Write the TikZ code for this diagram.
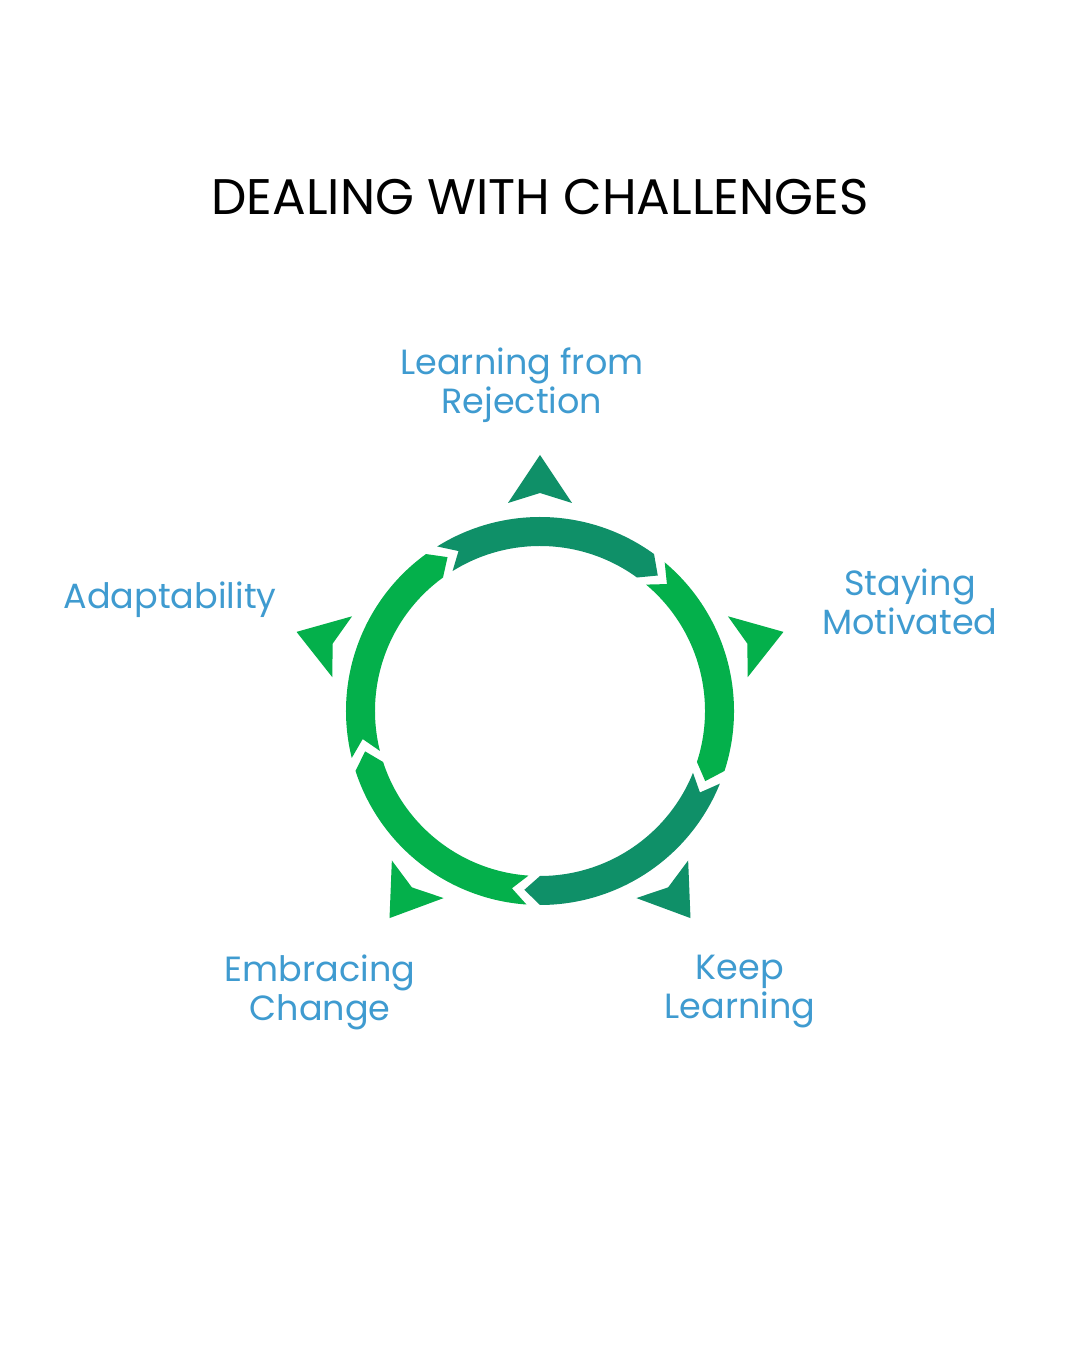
\documentclass[tikz,border=0pt]{standalone}
\usepackage{fontspec}
\setmainfont{Poppins}
\definecolor{dk}{HTML}{0F9068}
\definecolor{gr}{HTML}{04B04B}
\definecolor{lbl}{HTML}{3F9BD0}
\tikzset{lab/.style={text=lbl,align=center,font=\fontsize{35}{39}\selectfont}}
\newcommand{\seg}[3]{%
 \fill[#3] ({#1-2}:194) arc[start angle={#1-2},end angle={#2+2},radius=194] -- ({#2-3}:179.5) -- ({#2+2}:165) arc[start angle={#2+2},end angle={#1-2},radius=165] -- ({#1-7}:179.5) -- cycle;}
\newcommand{\tri}[2]{%
 \fill[#2,rotate=#1-90] (0,256) -- (-32,208) -- (0,218) -- (32,208) -- cycle;}
\begin{document}
\begin{tikzpicture}[x=1pt,y=1pt]
\useasboundingbox (0,0) rectangle (1080,1350);
\fill[white] (0,0) rectangle (1080,1350);
\node (title) at (540,1153) {\fontsize{50}{56}\selectfont DEALING WITH CHALLENGES};
\begin{scope}[shift={(540,639)}]
\seg{124}{52}{dk}
\seg{52}{-20}{gr}
\seg{-20}{-92}{dk}
\seg{-92}{-164}{gr}
\seg{196}{124}{gr}
\tri{90}{dk}
\tri{18}{gr}
\tri{-54}{dk}
\tri{-126}{gr}
\tri{162}{gr}
\end{scope}
\node[lab] (a) at (522,965) {Learning from\\Rejection};
\node[lab] (b) at (910,748) {Staying\\Motivated};
\node[lab] (c) at (170,750) {Adaptability};
\node[lab] (d) at (320,358) {Embracing\\Change};
\node[lab] (e) at (740,358) {Keep\\Learning};
\end{tikzpicture}
\end{document}
